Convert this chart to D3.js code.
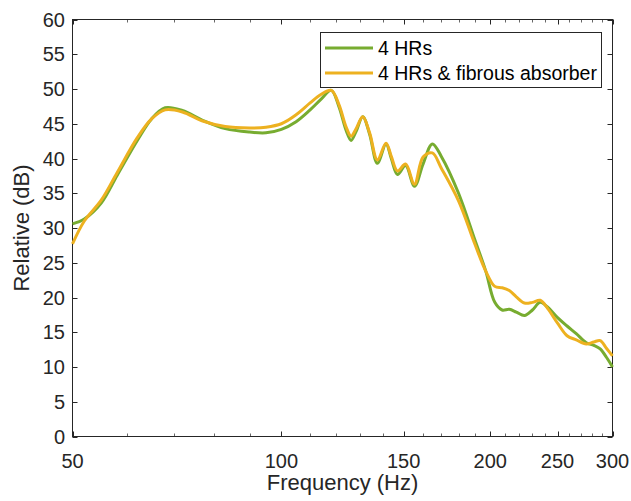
<!DOCTYPE html>
<html>
<head>
<meta charset="utf-8">
<script src="https://cdn.jsdelivr.net/npm/d3@7"></script>
<style>
  html, body { margin: 0; padding: 0; background: #fff; }
  svg { display: block; font-family: "Liberation Sans", Arial, sans-serif; }
</style>
</head>
<body>
<svg id="chart" width="631" height="501"></svg>
<script>
// Measured response, frequency in Hz and level in dB
const freqs = [50, 52, 55, 58, 62, 65, 68, 72, 77, 83,
  90, 95, 100, 105, 110, 114, 118, 121, 124, 126,
  128, 131, 134, 137.5, 141.5, 144, 147, 151, 155.5, 160,
  165, 170, 180, 190, 197, 203, 208, 213, 218, 224,
  230, 236, 242, 250, 258, 266, 275, 282, 288, 294, 300];

const hrs4 = [30.6, 31.3, 33.6, 37.6, 42.6, 45.7, 47.3, 46.9, 45.5, 44.3,
  43.8, 43.7, 44.2, 45.3, 47.0, 48.5, 49.8, 47.5, 44.0, 42.6,
  43.8, 46.0, 43.5, 39.3, 42.1, 40.0, 37.7, 39.0, 36.0, 39.2,
  42.1, 40.3, 35.0, 28.3, 23.8, 19.3, 18.2, 18.3, 17.9, 17.4,
  18.2, 19.3, 18.6, 17.1, 15.9, 14.8, 13.5, 13.1, 12.6, 11.4, 10.0];

const hrs4Fibrous = [27.7, 31.0, 34.0, 38.0, 43.0, 45.7, 47.0, 46.7, 45.4, 44.6,
  44.4, 44.5, 45.0, 46.3, 48.0, 49.2, 49.8, 47.8, 44.5, 43.2,
  44.2, 46.0, 43.7, 39.8, 42.2, 40.3, 38.2, 39.2, 36.3, 40.2,
  40.8, 38.6, 33.9, 27.7, 23.8, 21.6, 21.4, 21.0, 20.1, 19.2,
  19.3, 19.6, 18.4, 16.3, 14.5, 13.9, 13.3, 13.6, 13.8, 12.7, 11.6];

const seriesNames = ["4 HRs", "4 HRs & fibrous absorber"];
const seriesColors = ["#77AC30", "#EDB120"];

const xMajorTicks = [50, 100, 150, 200, 250, 300];
const xMinorTicks = [60, 70, 80, 90, 110, 120, 130, 140, 160, 170, 180, 190,
  210, 220, 230, 240, 260, 270, 280, 290];
const yTicks = [0, 5, 10, 15, 20, 25, 30, 35, 40, 45, 50, 55, 60];

const xLabel = "Frequency (Hz)";
const yLabel = "Relative (dB)";

// Plot area edges
const plotLeft = 72.5, plotRight = 612.5, plotTop = 19.5, plotBottom = 436.5;
const axisColor = "#262626";

const svg = d3.select("#chart");

const x = d3.scaleLog().domain([50, 300]).range([plotLeft, plotRight]);
const y = d3.scaleLinear().domain([0, 60]).range([plotBottom, plotTop]);

// Axes frame
svg.append("rect")
  .attr("x", plotLeft).attr("y", plotTop)
  .attr("width", plotRight - plotLeft).attr("height", plotBottom - plotTop)
  .attr("fill", "#fff").attr("stroke", axisColor).attr("stroke-width", 1);

// Tick marks pointing inward, mirrored on the opposite sides
const ticks = svg.append("g").attr("stroke", axisColor).attr("stroke-width", 1);
xMajorTicks.forEach(f => {
  const px = Math.round(x(f)) + 0.5;
  ticks.append("line").attr("x1", px).attr("x2", px).attr("y1", plotBottom).attr("y2", plotBottom - 5);
  ticks.append("line").attr("x1", px).attr("x2", px).attr("y1", plotTop).attr("y2", plotTop + 5);
});
xMinorTicks.forEach(f => {
  const px = Math.round(x(f)) + 0.5;
  ticks.append("line").attr("x1", px).attr("x2", px).attr("y1", plotBottom).attr("y2", plotBottom - 3)
    .attr("stroke-opacity", 0.7);
  ticks.append("line").attr("x1", px).attr("x2", px).attr("y1", plotTop).attr("y2", plotTop + 3)
    .attr("stroke-opacity", 0.7);
});
yTicks.forEach(v => {
  const py = Math.round(y(v)) + 0.5;
  ticks.append("line").attr("x1", plotLeft).attr("x2", plotLeft + 5).attr("y1", py).attr("y2", py);
  ticks.append("line").attr("x1", plotRight).attr("x2", plotRight - 5).attr("y1", py).attr("y2", py);
});

// Tick labels
svg.append("g").selectAll("text").data(xMajorTicks).join("text")
  .attr("x", d => x(d)).attr("y", 468)
  .attr("text-anchor", "middle")
  .attr("font-size", 20).attr("fill", axisColor)
  .text(d => d);

svg.append("g").selectAll("text").data(yTicks).join("text")
  .attr("x", 65).attr("y", d => y(d))
  .attr("dy", "0.36em")
  .attr("text-anchor", "end")
  .attr("font-size", 20).attr("fill", axisColor)
  .text(d => d);

// Axis titles
svg.append("text")
  .attr("x", (plotLeft + plotRight) / 2).attr("y", 490)
  .attr("text-anchor", "middle")
  .attr("font-size", 22).attr("fill", axisColor)
  .text(xLabel);

svg.append("text")
  .attr("transform", `translate(29,${(plotTop + plotBottom) / 2}) rotate(-90)`)
  .attr("text-anchor", "middle")
  .attr("font-size", 22).attr("fill", axisColor)
  .text(yLabel);

// Curves
const line = d3.line()
  .x(d => x(d[0]))
  .y(d => y(d[1]))
  .curve(d3.curveCatmullRom.alpha(0.5));

[hrs4, hrs4Fibrous].forEach((vals, i) => {
  svg.append("path")
    .datum(freqs.map((f, k) => [f, vals[k]]))
    .attr("fill", "none")
    .attr("stroke", seriesColors[i])
    .attr("stroke-width", 3)
    .attr("stroke-linejoin", "round")
    .attr("d", line);
});

// Legend
const lg = svg.append("g");
lg.append("rect")
  .attr("x", 320.5).attr("y", 32.5).attr("width", 281).attr("height", 55)
  .attr("fill", "#fff").attr("stroke", axisColor).attr("stroke-width", 1);
seriesNames.forEach((name, i) => {
  const ly = 48 + i * 25;
  lg.append("line")
    .attr("x1", 325).attr("x2", 373).attr("y1", ly).attr("y2", ly)
    .attr("stroke", seriesColors[i]).attr("stroke-width", 3);
  lg.append("text")
    .attr("x", 378).attr("y", ly).attr("dy", "0.36em")
    .attr("font-size", 19.5).attr("fill", "#000")
    .text(name);
});
</script>
</body>
</html>
